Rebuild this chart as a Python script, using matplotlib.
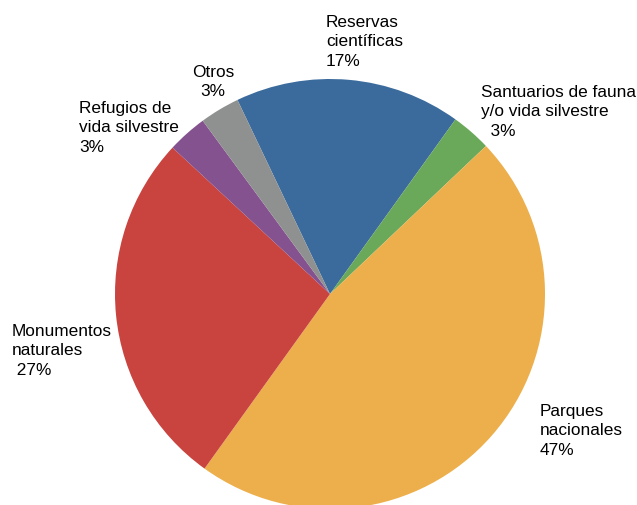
import matplotlib.pyplot as plt

#-----------------------------------------------------#

categorias = ['Reservas\ncientíficas', 'Santuarios de fauna\ny/o vida silvestre',
              'Parques\nnacionales', 'Monumentos\nnaturales', 'Refugios de\nvida silvestre', 'Otros']
porcentajes = [17, 3, 47, 27, 3, 3]
colores = ['#3B6B9C', '#6AA85A', '#EDAF4B', '#C9433F', '#84528E', '#8F9090']

#-----------------------------------------------------#

plt.rcParams['font.family'] = ['Liberation Sans', 'DejaVu Sans']

W, H = 637, 506
fig = plt.figure(figsize=(W / 100, H / 100), dpi=100)
ax = fig.add_axes([0, 0, 1, 1])

# centro e raggio della torta in pixel (y dal basso)
cx, cy, r = 330, H - 295, 215

ax.pie(porcentajes, colors=colores, startangle=115.5, counterclock=False,
       center=(cx, cy), radius=r, frame=True,
       wedgeprops=dict(linewidth=0))
ax.set_xlim(0, W)
ax.set_ylim(0, H)
ax.set_aspect('equal')
ax.set_axis_off()

# posizione etichette (x, y top in pixel, allineamento)
pos_etiquetas = [
    (326, 15, 'left', ''),
    (481, 85, 'left', '  '),
    (540, 404, 'left', ''),
    (12, 324, 'left', ' '),
    (79, 101, 'left', ''),
    (213, 65, 'center', ''),
]

for cat, pct, (x, y, ha, pre) in zip(categorias, porcentajes, pos_etiquetas):
    texto = f"{cat}\n{pre}{pct}%"
    ax.text(x, H - y, texto, ha=ha, va='top', fontsize=12.4, color='black',
            linespacing=1.36, multialignment=ha)

plt.savefig('out.png', dpi=100)
